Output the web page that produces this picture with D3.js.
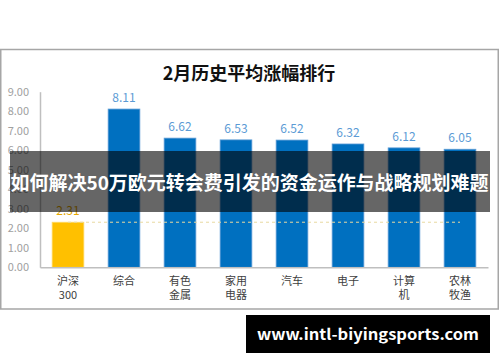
<!DOCTYPE html>
<html>
<head>
<meta charset="utf-8">
<script src="https://cdn.jsdelivr.net/npm/d3@7"></script>
<style>
  body { margin: 0; background: #fff; }
  svg { display: block; }
  text { font-family: "Noto Sans CJK SC", "Noto Sans", sans-serif; }
</style>
</head>
<body>
<div id="chart"></div>
<script>
const width = 500
const height = 362

// chart data
const categories = ["沪深\n300", "综合", "有色\n金属", "家用\n电器", "汽车", "电子", "计算\n机", "农林\n牧渔"]
const values = [2.31, 8.11, 6.62, 6.53, 6.52, 6.32, 6.12, 6.05]
const yTicks = [0, 1, 2, 3, 4, 5, 6, 7, 8, 9]
const title = "2月历史平均涨幅排行"
const banner = "如何解决50万欧元转会费引发的资金运作与战略规划难题"
const site = "www.intl-biyingsports.com"

const data = categories.map((c, i) => ({ cat: c, value: values[i] }))

const svg = d3.select("#chart").append("svg")
  .attr("width", width)
  .attr("height", height)

// frame around the chart
svg.append("rect")
  .attr("x", 0.75).attr("y", 49.5)
  .attr("width", 497.5).attr("height", 259.5)
  .attr("fill", "#fff")
  .attr("stroke", "#a6a6a6")
  .attr("stroke-width", 1.5)

svg.append("text")
  .attr("x", 249).attr("y", 80)
  .attr("text-anchor", "middle")
  .attr("font-size", 18)
  .attr("font-weight", "bold")
  .attr("fill", "#111")
  .text(title)

const x = d3.scaleBand()
  .domain(categories)
  .range([40, 488])
  .paddingInner(0.434)
  .paddingOuter(0.217)

const y = d3.scaleLinear()
  .domain([0, 9])
  .range([267.3, 91.7])

// y axis
const yAxis = svg.append("g")
  .attr("transform", "translate(40,0)")
  .call(d3.axisLeft(y).tickValues(yTicks).tickFormat(d3.format(".2f")).tickSize(0).tickPadding(11))
yAxis.select(".domain").attr("stroke", "#bfbfbf").attr("stroke-width", 1.5)
yAxis.selectAll("text")
  .attr("font-family", "'Liberation Sans', sans-serif")
  .attr("font-size", 11)
  .attr("fill", "#a0a0a0")

// bars
svg.append("g").selectAll("rect")
  .data(data)
  .enter().append("rect")
  .attr("x", d => x(d.cat))
  .attr("y", d => y(d.value))
  .attr("width", x.bandwidth())
  .attr("height", d => y(0) - y(d.value))
  .attr("fill", (d, i) => i === 0 ? "#ffc000" : "#0070c0")
  .attr("stroke", (d, i) => i === 0 ? "#ffd966" : "#5b9bd5")
  .attr("stroke-width", 0.8)

// reference line at the index level
svg.append("line")
  .attr("x1", x(categories[0]) + x.bandwidth() / 2)
  .attr("x2", x(categories[categories.length - 1]) + x.bandwidth() / 2)
  .attr("y1", y(values[0]))
  .attr("y2", y(values[0]))
  .attr("stroke", "#e8d9a0")
  .attr("stroke-width", 1)
  .attr("stroke-dasharray", "3,3")

// x axis
const xAxis = svg.append("g")
  .attr("transform", "translate(0," + y(0) + ")")
  .call(d3.axisBottom(x).tickSize(0).tickFormat(""))
xAxis.select(".domain").attr("stroke", "#bfbfbf").attr("stroke-width", 1.5)

const xLabels = svg.append("g").selectAll("text")
  .data(categories)
  .enter().append("text")
  .attr("text-anchor", "middle")
  .attr("font-size", 11)
  .attr("fill", "#404040")
  .attr("x", d => x(d) + x.bandwidth() / 2)
  .attr("y", 285)
xLabels.selectAll("tspan")
  .data(d => d.split("\n"))
  .enter().append("tspan")
  .attr("x", function() { return d3.select(this.parentNode).attr("x") })
  .attr("dy", (d, i) => i === 0 ? 0 : 14)
  .text(d => d)

// value labels
svg.append("g").selectAll("text")
  .data(data)
  .enter().append("text")
  .attr("x", d => x(d.cat) + x.bandwidth() / 2)
  .attr("y", d => y(d.value) - 7)
  .attr("text-anchor", "middle")
  .attr("font-family", "'Liberation Sans', sans-serif")
  .attr("font-size", 12)
  .attr("fill", (d, i) => i === 0 ? "#e6a800" : "#5b9bd5")
  .text(d => d.value.toFixed(2))

// dark banner with headline
svg.append("rect")
  .attr("x", 10).attr("y", 151)
  .attr("width", 480).attr("height", 61)
  .attr("fill", "rgba(0,0,0,0.6)")

svg.append("text")
  .attr("x", 249.5).attr("y", 190)
  .attr("text-anchor", "middle")
  .attr("font-size", 19)
  .attr("font-weight", "bold")
  .attr("fill", "#fff")
  .attr("textLength", 478)
  .attr("lengthAdjust", "spacingAndGlyphs")
  .text(banner)

// site box
svg.append("rect")
  .attr("x", 246).attr("y", 315)
  .attr("width", 244).attr("height", 38)
  .attr("fill", "#000")

svg.append("text")
  .attr("x", 368).attr("y", 340)
  .attr("text-anchor", "middle")
  .attr("font-family", "'DejaVu Sans', sans-serif")
  .attr("font-size", 15)
  .attr("font-weight", "bold")
  .attr("fill", "#fff")
  .attr("textLength", 222)
  .attr("lengthAdjust", "spacingAndGlyphs")
  .text(site)
</script>
</body>
</html>
